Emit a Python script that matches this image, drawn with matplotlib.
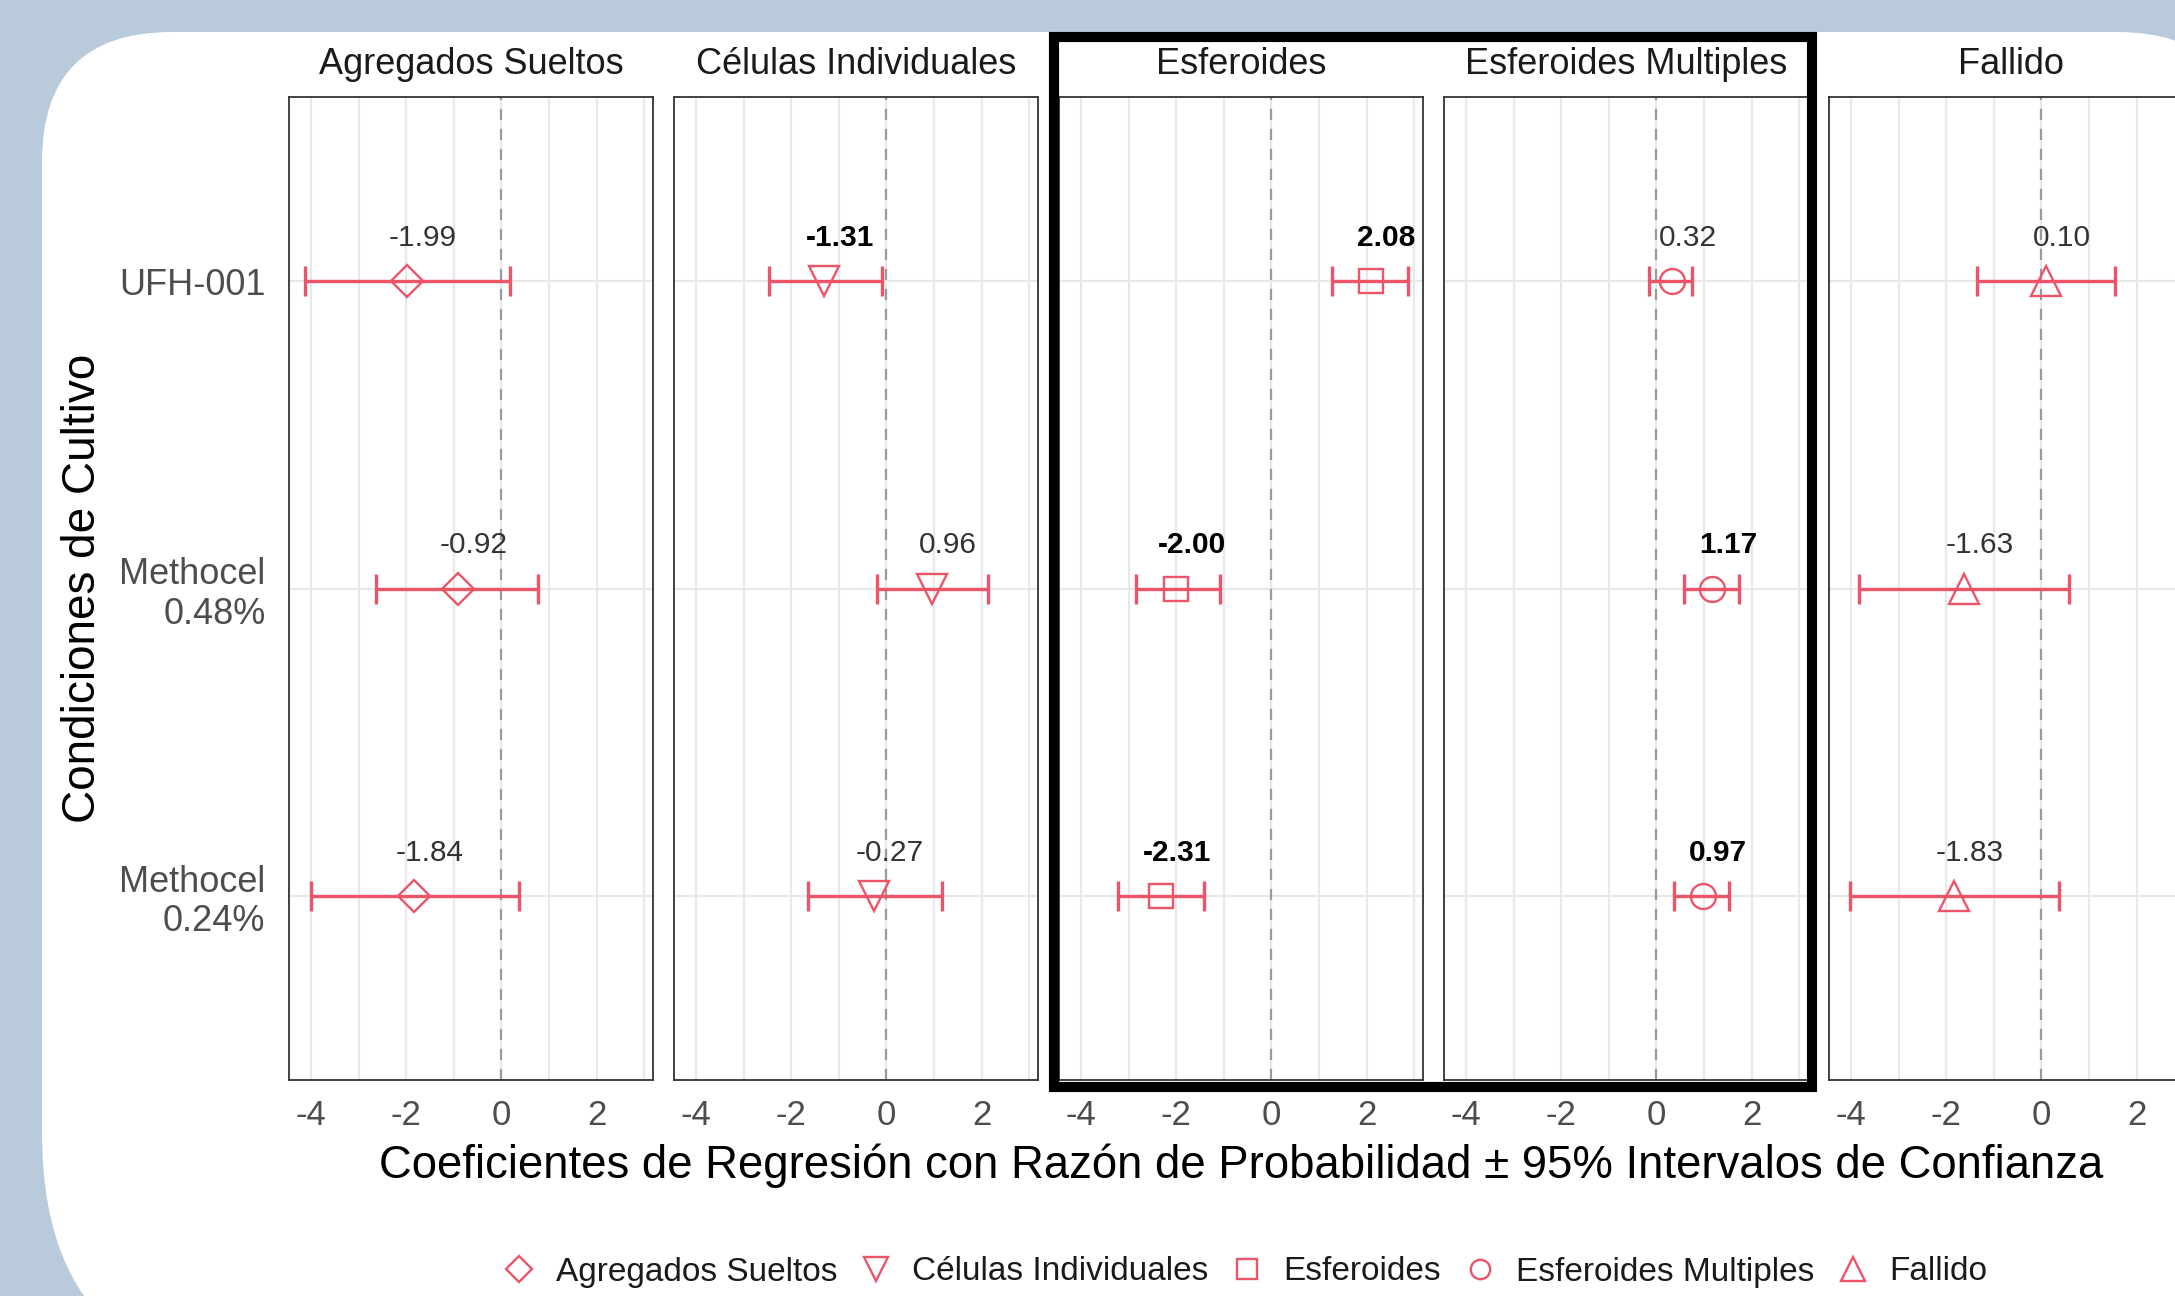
import numpy as np
import matplotlib
matplotlib.use("Agg")
import matplotlib.pyplot as plt
from matplotlib.lines import Line2D
from matplotlib.patches import FancyBboxPatch, Rectangle

plt.rcParams["font.family"] = ["Liberation Sans", "DejaVu Sans"]

# data (rows: UFH-001, Methocel 0.48%, Methocel 0.24%)
categories = ["Agregados Sueltos", "Células Individuales", "Esferoides",
              "Esferoides Multiples", "Fallido"]
conditions = ["UFH-001", "Methocel\n0.48%", "Methocel\n0.24%"]
markers = ["D", "v", "s", "o", "^"]

est_agregados = [-1.99, -0.92, -1.84]
lo_agregados = [-4.13, -2.63, -4.00]
hi_agregados = [0.17, 0.77, 0.36]

est_celulas = [-1.31, 0.96, -0.27]
lo_celulas = [-2.47, -0.20, -1.65]
hi_celulas = [-0.10, 2.13, 1.17]

est_esferoides = [2.08, -2.00, -2.31]
lo_esferoides = [1.26, -2.85, -3.23]
hi_esferoides = [2.86, -1.08, -1.41]

est_multiples = [0.32, 1.17, 0.97]
lo_multiples = [-0.15, 0.58, 0.37]
hi_multiples = [0.75, 1.74, 1.52]

est_fallido = [0.10, -1.63, -1.83]
lo_fallido = [-1.36, -3.83, -4.02]
hi_fallido = [1.55, 0.57, 0.36]

estimates = [est_agregados, est_celulas, est_esferoides, est_multiples, est_fallido]
lows = [lo_agregados, lo_celulas, lo_esferoides, lo_multiples, lo_fallido]
highs = [hi_agregados, hi_celulas, hi_esferoides, hi_multiples, hi_fallido]
x_ticks = [-4, -2, 0, 2]

RED = "#EE5468"
W, H = 2175, 1296

fig = plt.figure(figsize=(W / 100, H / 100), dpi=100)
fig.patch.set_facecolor("#B9CADB")

# white slide card behind the chart
fig.add_artist(FancyBboxPatch((0.42, 2.96), 22.05, 9.68,
                              boxstyle="round,pad=0,rounding_size=1.3",
                              transform=fig.dpi_scale_trans,
                              facecolor="white", edgecolor="none", zorder=-5))
fig.add_artist(FancyBboxPatch((0.42, -0.87), 22.05, 9.83,
                              boxstyle="round,pad=0,rounding_size=2.5",
                              transform=fig.dpi_scale_trans,
                              facecolor="white", edgecolor="none", zorder=-5))

ypos = np.array([3, 2, 1])
top_px, bot_px, panel_w = 97, 1080, 364
msize = {"D": 16, "v": 22, "s": 17, "o": 18, "^": 22}

for i, cat in enumerate(categories):
    left_px = 289 + 385 * i
    ax = fig.add_axes([left_px / W, 1 - bot_px / H, panel_w / W, (bot_px - top_px) / H])
    ax.set_facecolor("white")
    ax.set_xlim(-4.46, 3.18)
    ax.set_ylim(0.4, 3.6)

    for gx in range(-4, 4):
        ax.axvline(gx, color="#E8E8E8", lw=1.6, zorder=0)
    for gy in ypos:
        ax.axhline(gy, color="#E8E8E8", lw=1.6, zorder=0)
    ax.axvline(0, color="#9A9A9A", lw=1.6, ls=(0, (5, 4)), zorder=1)

    est = np.array(estimates[i])
    lo = np.array(lows[i])
    hi = np.array(highs[i])
    ax.errorbar(est, ypos, xerr=[est - lo, hi - est], fmt="none",
                ecolor=RED, elinewidth=2.4, capsize=11, capthick=2.4, zorder=3)
    ax.plot(est, ypos, ls="none", marker=markers[i], mfc="none", mec=RED,
            mew=1.7, ms=msize[markers[i]], zorder=4)

    for e, l, h, y in zip(est, lo, hi, ypos):
        sig = l > 0 or h < 0
        ax.text(e + 0.33, y + 0.14, f"{e:.2f}", ha="center", va="center",
                fontsize=21.5, fontweight="bold" if sig else "normal",
                color="black" if sig else "#333333", zorder=5)

    ax.set_xticks(x_ticks)
    ax.set_xticklabels([str(t) for t in x_ticks])
    ax.set_yticks(ypos)
    if i == 0:
        ax.set_yticklabels(conditions, fontsize=26, color="#4D4D4D",
                           multialignment="right", linespacing=1.15)
    else:
        ax.set_yticklabels([])
    ax.tick_params(length=0, labelcolor="#4D4D4D")
    ax.tick_params(axis="x", pad=14, labelsize=25)
    ax.tick_params(axis="y", pad=17)
    for sp in ax.spines.values():
        sp.set_color("#333333")
        sp.set_linewidth(1.3)

    ax.text(0.5, 1 + (top_px - 65) / (bot_px - top_px), cat, transform=ax.transAxes,
            ha="center", va="center", fontsize=26, color="#1A1A1A")

# highlight box around the Esferoides panels
fig.add_artist(Rectangle((1053.5 / W, 1 - 1087 / H), (1812 - 1053.5) / W,
                         (1087 - 36.5) / H, transform=fig.transFigure,
                         fill=False, edgecolor="black", lw=7.3, zorder=6))

fig.text(1241 / W, 1 - 1166 / H,
         "Coeficientes de Regresión con Razón de Probabilidad ± 95% Intervalos de Confianza",
         ha="center", va="center", fontsize=32.8, color="black")
fig.text(83 / W, 1 - 588 / H, "Condiciones de Cultivo", rotation=90,
         ha="center", va="center", fontsize=33, color="black")

handles = [Line2D([], [], ls="none", marker=m, mfc="none", mec=RED, mew=1.7,
                  ms={"D": 13, "v": 17, "s": 14, "o": 14, "^": 17}[m])
           for m in markers]
fig.legend(handles, categories, loc="center", bbox_to_anchor=(1245 / W, 1 - 1272 / H),
           ncol=5, frameon=False, fontsize=24, handlelength=1.0, handletextpad=0.6,
           columnspacing=0.65, labelcolor="#1A1A1A")

fig.savefig("out.png", dpi=100, facecolor=fig.get_facecolor())
